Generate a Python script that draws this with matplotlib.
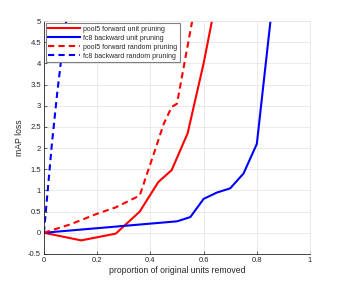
import matplotlib
matplotlib.use('Agg')
import matplotlib.pyplot as plt
import numpy as np

plt.rcParams['font.family'] = ['Liberation Sans', 'DejaVu Sans']

# pool5 forward unit pruning
fwd_unit_x = [0, 0.14, 0.27, 0.36, 0.43, 0.48, 0.54, 0.60, 0.65]
fwd_unit_y = [0, -0.18, -0.02, 0.50, 1.2, 1.48, 2.35, 4.0, 5.6]
# fc8 backward unit pruning
bwd_unit_x = [0, 0.50, 0.55, 0.60, 0.65, 0.70, 0.75, 0.80, 0.86]
bwd_unit_y = [0, 0.27, 0.37, 0.80, 0.95, 1.05, 1.40, 2.10, 5.5]
# pool5 forward random pruning
fwd_rand_x = [0, 0.10, 0.20, 0.27, 0.36, 0.42, 0.45, 0.48, 0.50, 0.56]
fwd_rand_y = [0, 0.20, 0.45, 0.60, 0.88, 2.0, 2.57, 2.97, 3.05, 5.1]
# fc8 backward random pruning
bwd_rand_x = [0, 0.01, 0.03, 0.05, 0.066, 0.09]
bwd_rand_y = [0, 0.7, 2.1, 3.3, 4.15, 5.3]

txt = '#262626'
fig = plt.figure(figsize=(3.43, 2.85), dpi=100)
ax = fig.add_axes([0.128, 0.109, 0.776, 0.817])

ax.plot(fwd_unit_x, fwd_unit_y, color='#ff0000', lw=1.5, label='pool5 forward unit pruning')
ax.plot(bwd_unit_x, bwd_unit_y, color='#0000ff', lw=1.5, label='fc8 backward unit pruning')
ax.plot(fwd_rand_x, fwd_rand_y, color='#ff0000', lw=1.5, ls=(0, (3, 2)), label='pool5 forward random pruning')
ax.plot(bwd_rand_x, bwd_rand_y, color='#0000ff', lw=1.5, ls=(0, (3, 2)), label='fc8 backward random pruning')

ax.set_xlim(0, 1)
ax.set_ylim(-0.5, 5)
ax.set_xticks(np.arange(0, 1.01, 0.2))
ax.set_xticklabels(['0', '0.2', '0.4', '0.6', '0.8', '1'])
ax.set_yticks(np.arange(-0.5, 5.01, 0.5))
ax.set_yticklabels(['-0.5', '0', '0.5', '1', '1.5', '2', '2.5', '3', '3.5', '4', '4.5', '5'])
ax.grid(True, color='#e6e6e6', lw=0.6)
ax.set_axisbelow(True)
ax.tick_params(direction='in', length=2, width=0.5, labelsize=5.5, colors=txt, pad=2)
for s in ['left', 'bottom']:
    ax.spines[s].set_color(txt)
    ax.spines[s].set_linewidth(0.6)
for s in ['top', 'right']:
    ax.spines[s].set_color('#e6e6e6')
    ax.spines[s].set_linewidth(0.6)

ax.set_xlabel('proportion of original units removed', fontsize=6.2, color=txt, labelpad=2)
ax.set_ylabel('mAP loss', fontsize=6.2, color=txt, labelpad=3)

leg = ax.legend(loc='upper left', fontsize=5, frameon=True, fancybox=False,
                handlelength=4.6, handletextpad=0.4, borderpad=0.35, labelspacing=0.3,
                borderaxespad=0.3, framealpha=1)
leg.get_frame().set_edgecolor('#808080')
leg.get_frame().set_linewidth(0.8)
for t in leg.get_texts():
    t.set_color(txt)

fig.savefig('out.png', dpi=100)
